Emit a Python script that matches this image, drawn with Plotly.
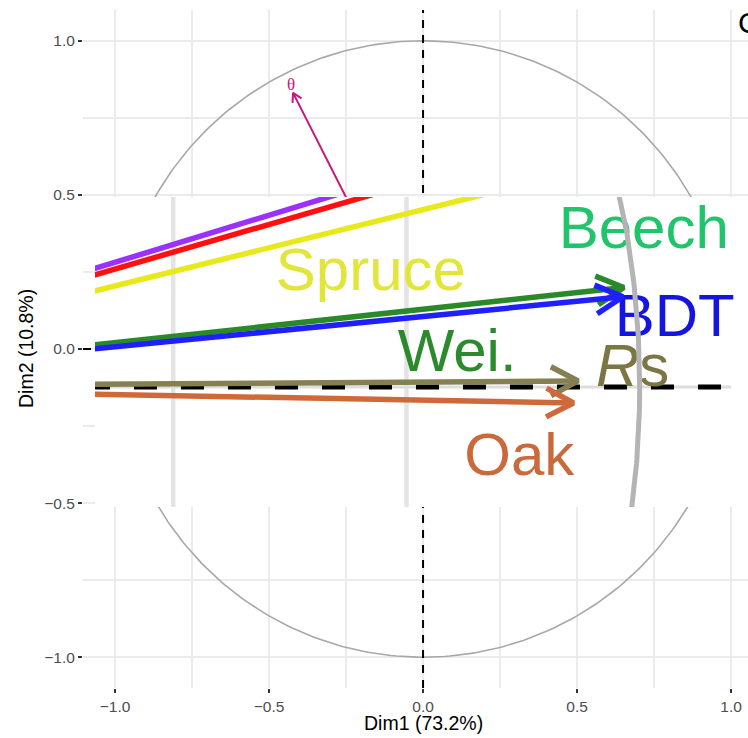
import numpy as np
import plotly.graph_objects as go

# ---------------- data ----------------
# main correlation circle (Dim1 / Dim2)
main_x_range = [-1.104, 1.055]
main_y_range = [-1.10, 1.10]
tick_vals = [-1.0, -0.5, 0.0, 0.5, 1.0]
x_title = "Dim1 (73.2%)"
y_title = "Dim2 (10.8%)"
theta_tip = [-0.422, 0.831]
theta_label = "θ"
theta_label_pos = [-0.4286, 0.857]
panel_label = "C"

# inset: zoomed detail of the loading arrows
inset_x_range = [0.4161, 1.1161]
inset_y_range = [-0.1290, 0.2043]
inset_grid_x = [0.5, 0.75]
arrow_names = ["purple", "red", "yellow", "Wei.", "BDT", "Rs", "Oak"]
arrow_x = [0.78, 0.85, 0.95, 0.983, 0.982, 0.934, 0.929]
arrow_y = [0.239, 0.2465, 0.236, 0.107, 0.097, 0.0065, -0.0172]
arrow_colors = ["#9b30ff", "#ff1010", "#e8e81c", "#2a8a2a", "#1f1fff", "#858052", "#d0693a"]

label_text = ["Spruce", "Beech", "BDT", "Wei.", "<i>R</i>s", "Oak"]
label_x = [0.7118, 1.0043, 1.0376, 0.8043, 0.9925, 0.871]
label_y = [0.1199, 0.166, 0.0713, 0.0337, 0.0176, -0.0781]
label_colors = ["#e2e53a", "#20c46a", "#1515e0", "#2b8a2b", "#7c7645", "#c9693c"]


def chevron(tx, ty, length, ang_deg):
    """Open arrow-head arms for an arrow drawn from the origin to (tx, ty)."""
    n = np.hypot(tx, ty)
    bx, by = -tx / n, -ty / n
    pts = []
    for s in (1, -1):
        a = np.radians(ang_deg) * s
        rx = bx * np.cos(a) - by * np.sin(a)
        ry = bx * np.sin(a) + by * np.cos(a)
        pts.append((tx + length * rx, ty + length * ry))
    return pts


fig = go.Figure()

# ---------------- main panel ----------------
t = np.linspace(0, 2 * np.pi, 361)
fig.add_trace(go.Scatter(x=np.cos(t), y=np.sin(t), mode="lines",
                         line=dict(color="#a8a8a8", width=1.6),
                         hoverinfo="skip", xaxis="x", yaxis="y"))
fig.add_trace(go.Scatter(x=[0, 0], y=main_y_range, mode="lines",
                         line=dict(color="black", width=2, dash="8px,7px"),
                         hoverinfo="skip", xaxis="x", yaxis="y"))
fig.add_trace(go.Scatter(x=main_x_range, y=[0, 0], mode="lines",
                         line=dict(color="black", width=2, dash="8px,7px"),
                         hoverinfo="skip", xaxis="x", yaxis="y"))
(a1, a2) = chevron(theta_tip[0], theta_tip[1], 0.0325, 30)
fig.add_trace(go.Scatter(x=[0, theta_tip[0], None, a1[0], theta_tip[0], a2[0]],
                         y=[0, theta_tip[1], None, a1[1], theta_tip[1], a2[1]],
                         mode="lines", line=dict(color="#c8157f", width=2),
                         hoverinfo="skip", xaxis="x", yaxis="y"))

# ---------------- inset ----------------
ix0, ix1 = inset_x_range
iy0, iy1 = inset_y_range
fig.add_trace(go.Scatter(x=[ix0, ix1, ix1, ix0, ix0], y=[iy0, iy0, iy1, iy1, iy0],
                         mode="lines", fill="toself", fillcolor="white",
                         line=dict(color="white", width=0),
                         hoverinfo="skip", xaxis="x2", yaxis="y2"))
for gx in inset_grid_x:
    fig.add_trace(go.Scatter(x=[gx, gx], y=[iy0, iy1], mode="lines",
                             line=dict(color="#e4e4e4", width=4.5),
                             hoverinfo="skip", xaxis="x2", yaxis="y2"))
fig.add_trace(go.Scatter(x=[ix0, 1.098], y=[0, 0], mode="lines",
                         line=dict(color="#dddddd", width=3),
                         hoverinfo="skip", xaxis="x2", yaxis="y2"))
fig.add_trace(go.Scatter(x=[0.4075, 1.090], y=[0, 0], mode="lines",
                         line=dict(color="black", width=5, dash="23px,24px"),
                         hoverinfo="skip", xaxis="x2", yaxis="y2"))

fig.add_trace(go.Scatter(x=label_x, y=label_y, mode="text", text=label_text,
                         textposition="middle center",
                         textfont=dict(family="Liberation Sans, Arial", size=60,
                                       color=label_colors),
                         hoverinfo="skip", xaxis="x2", yaxis="y2"))

for name, tx, ty, col in zip(arrow_names, arrow_x, arrow_y, arrow_colors):
    (b1, b2) = chevron(tx, ty, 0.033, 28)
    fig.add_trace(go.Scatter(x=[0, tx, None, b1[0], tx, b2[0]],
                             y=[0, ty, None, b1[1], ty, b2[1]],
                             mode="lines", line=dict(color=col, width=5.5),
                             name=name, hoverinfo="skip", xaxis="x2", yaxis="y2"))

ti = np.linspace(0, 2 * np.pi, 1441)
fig.add_trace(go.Scatter(x=np.cos(ti), y=np.sin(ti), mode="lines",
                         line=dict(color="#b4b4b4", width=5),
                         hoverinfo="skip", xaxis="x2", yaxis="y2"))

# ---------------- layout ----------------
axis_common = dict(
    tickvals=tick_vals, tickformat=".1f", ticks="outside", ticklen=4,
    tickwidth=2, tickcolor="#333333", showgrid=True, gridcolor="#ebebeb",
    gridwidth=2, zeroline=False, showline=False,
    tickfont=dict(family="Liberation Sans, Arial", size=15.5, color="#4d4d4d"),
    minor=dict(dtick=0.25, tick0=0, showgrid=True, gridcolor="#ebebeb",
               gridwidth=1.6, ticks=""),
)
fig.update_layout(
    width=748, height=738,
    margin=dict(l=83, r=0, t=10, b=50),
    paper_bgcolor="white", plot_bgcolor="white",
    showlegend=False,
    hovermode=False,
    xaxis=dict(range=main_x_range, domain=[0, 1], **axis_common),
    yaxis=dict(range=main_y_range, domain=[0, 1], **axis_common),
    xaxis2=dict(range=inset_x_range, domain=[0.01805, 1.0], anchor="y2",
                visible=False, showgrid=False, zeroline=False),
    yaxis2=dict(range=inset_y_range, domain=[0.2670, 0.7242], anchor="x2",
                visible=False, showgrid=False, zeroline=False),
    annotations=[
        dict(text=x_title, xref="paper", yref="paper", x=0.5113, y=-0.0516,
             xanchor="center", yanchor="middle", showarrow=False,
             font=dict(family="Liberation Sans, Arial", size=19.5, color="black")),
        dict(text=y_title, xref="paper", yref="paper", x=-0.0857, y=0.5,
             xanchor="center", yanchor="middle", showarrow=False, textangle=-90,
             font=dict(family="Liberation Sans, Arial", size=19.5, color="black")),
        dict(text=theta_label, xref="x", yref="y", x=theta_label_pos[0],
             y=theta_label_pos[1], showarrow=False,
             font=dict(family="Liberation Serif, DejaVu Serif", size=17, color="#c8157f")),
        dict(text=panel_label, xref="paper", yref="paper", x=0.982, y=0.981,
             xanchor="left", yanchor="middle", showarrow=False,
             font=dict(family="Liberation Sans, Arial", size=30, color="black")),
    ],
)

# remove the browser's default 8 px body margin so the figure fills the window
fig.write_html(
    "out.html",
    config={"displayModeBar": False},
    post_script="document.body.style.margin='0';document.body.style.overflow='hidden';",
)
